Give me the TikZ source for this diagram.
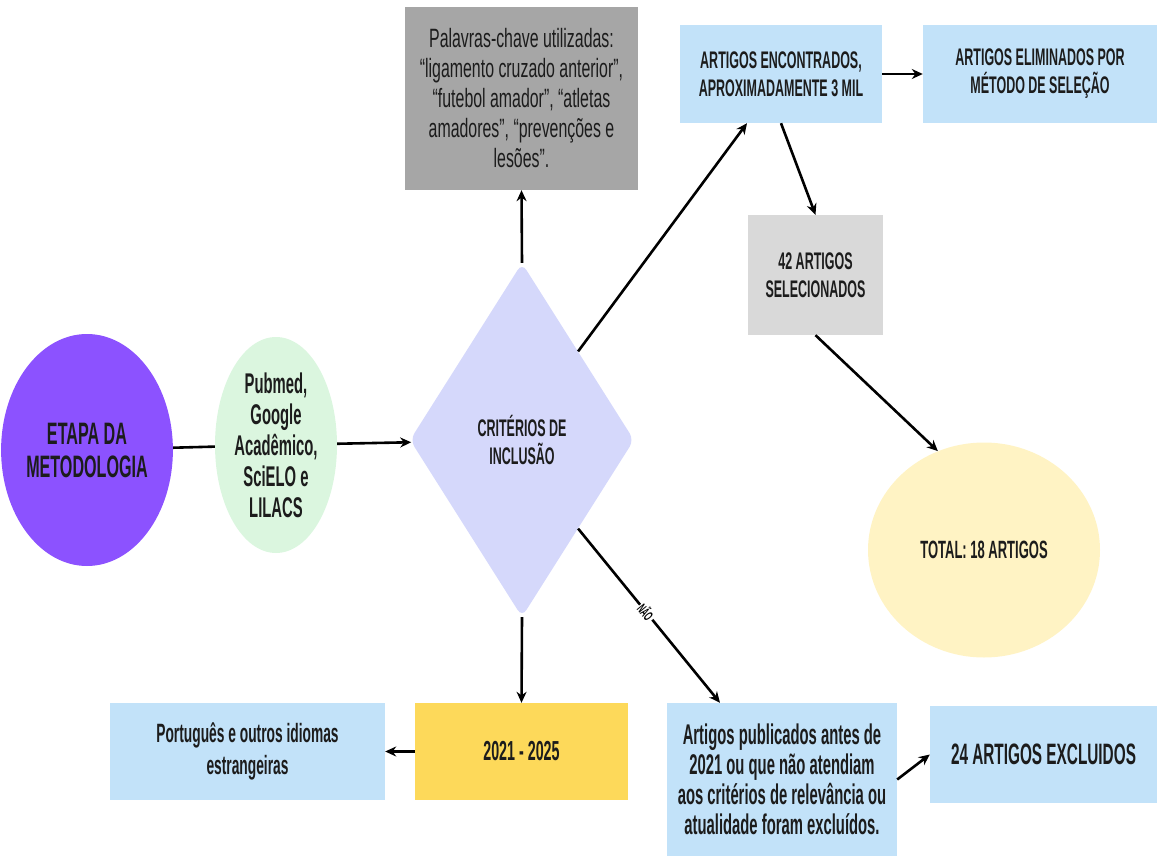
\documentclass[tikz,border=0pt]{standalone}
\usepackage{fontspec}
\setmainfont{Liberation Sans}[FakeStretch=0.52]
\newfontfamily\palavrasfont{Liberation Sans}[FakeStretch=0.6]
\usepackage{xcolor}
\usetikzlibrary{arrows.meta}
\usetikzlibrary{shapes.geometric}

\definecolor{roxo}{HTML}{8C52FF}
\definecolor{verdeclaro}{HTML}{DBF6DF}
\definecolor{lilas}{HTML}{D5D8FB}
\definecolor{cinza}{HTML}{A6A6A6}
\definecolor{cinzaclaro}{HTML}{D9D9D9}
\definecolor{azulclaro}{HTML}{C2E2F9}
\definecolor{amareloclaro}{HTML}{FFF3C4}
\definecolor{amarelo}{HTML}{FDD95A}
\definecolor{texto}{HTML}{1C1C1C}

\tikzset{
  caixa/.style={rectangle, fill=#1, inner sep=0pt, align=center, text=texto},
  bola/.style={ellipse, fill=#1, inner sep=0pt, align=center, text=texto},
  seta/.style={->, line width=2.6pt, black},
}

\begin{document}
\begin{tikzpicture}[x=1pt, y=-1pt, >={Stealth[length=11pt, width=10pt]}]
        \useasboundingbox (0,0) rectangle (1157,856);

        % Left side
        \node[bola=roxo, minimum width=154pt, minimum height=232pt, font=\bfseries\fontsize{31}{33}\selectfont] (etapa) at (87,450) {ETAPA DA\\METODOLOGIA};
        \node[bola=verdeclaro, minimum width=122pt, minimum height=216pt, font=\bfseries\fontsize{28.5}{31}\selectfont] (bases) at (276,445) {Pubmed,\\Google\\Acadêmico,\\SciELO e\\LILACS};

        % Criteria
        \node[diamond, fill=lilas, rounded corners=8pt, minimum width=224pt, minimum height=354pt, inner sep=0pt, align=center, text=texto, font=\bfseries\fontsize{24}{28}\selectfont] (crit) at (522,440) {CRITÉRIOS DE\\INCLUSÃO};
        \node[caixa=cinza, minimum width=233pt, minimum height=183pt, font=\palavrasfont\fontsize{26.5}{30}\selectfont] (palavras) at (521.5,98.5) {Palavras-chave utilizadas:\\“ligamento cruzado anterior”,\\“futebol amador”, “atletas\\amadores”, “prevenções e\\lesões”.};

        % Selection
        \node[caixa=azulclaro, minimum width=202pt, minimum height=98pt, font=\bfseries\fontsize{24}{28}\selectfont] (encontrados) at (781,74) {ARTIGOS ENCONTRADOS,\\APROXIMADAMENTE 3 MIL};
        \node[caixa=azulclaro, minimum width=234pt, minimum height=98pt, font=\bfseries\fontsize{24}{28}\selectfont] (eliminados) at (1040,74) {ARTIGOS ELIMINADOS POR\\MÉTODO DE SELEÇÃO};
        \node[caixa=cinzaclaro, minimum width=135pt, minimum height=120pt, font=\bfseries\fontsize{24}{28}\selectfont] (selecionados) at (815.5,275) {42 ARTIGOS\\SELECIONADOS};
        \node[bola=amareloclaro, minimum width=232pt, minimum height=215pt, font=\bfseries\fontsize{25}{28}\selectfont] (total) at (984,550) {TOTAL: 18 ARTIGOS};

        % Bottom row
        \node[caixa=azulclaro, minimum width=275pt, minimum height=97pt, font=\bfseries\fontsize{26.5}{32}\selectfont] (idiomas) at (247.5,751.5) {Português e outros idiomas\\estrangeiras};
        \node[caixa=amarelo, minimum width=213pt, minimum height=97pt, font=\bfseries\fontsize{27.5}{30}\selectfont] (anos) at (521.5,751.5) {2021 - 2025};
        \node[caixa=azulclaro, minimum width=230pt, minimum height=153pt, font=\bfseries\fontsize{28.5}{30}\selectfont] (publicados) at (782,779.5) {Artigos publicados antes de\\2021 ou que não atendiam\\aos critérios de relevância ou\\atualidade foram excluídos.};
        \node[caixa=azulclaro, minimum width=227pt, minimum height=97pt, font=\bfseries\fontsize{29.5}{32}\selectfont] (excluidos) at (1043.5,754.5) {24 ARTIGOS EXCLUIDOS};

        % Connectors
        \draw[line width=2.6pt] (etapa) -- (bases);
        \draw[seta] (bases) -- (crit);
        \draw[seta] (crit.north) -- (palavras.south);
        \draw[seta] (crit.north east) -- ([xshift=-34pt]encontrados.south);
        \draw[seta] (encontrados) -- (eliminados);
        \draw[seta] (encontrados.south) -- (selecionados.north);
        \draw[seta] (selecionados.south) -- (total.115);
        \draw[seta] (crit.south) -- (anos.north);
        \draw[seta] (anos) -- (idiomas);
        \draw[seta] (crit.south east) -- ([xshift=-62pt]publicados.north)
            node[pos=0.48, sloped, fill=white, inner sep=1.5pt, font=\bfseries\fontsize{14}{16}\selectfont] {NÃO};
        \draw[seta] (publicados.east) -- (excluidos.west);
    \end{tikzpicture}
\end{document}
